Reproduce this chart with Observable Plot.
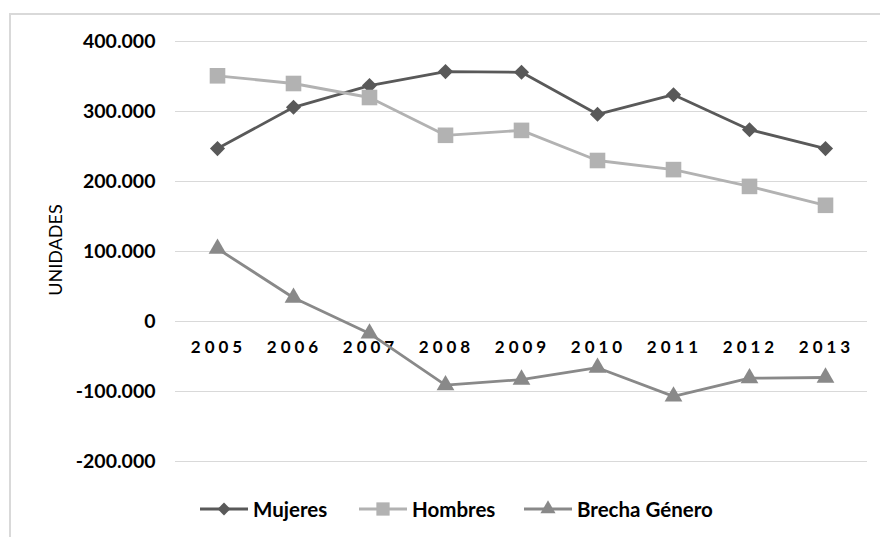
<!DOCTYPE html>
<html><head><meta charset="utf-8">
<script src="https://cdn.jsdelivr.net/npm/d3@7"></script>
<script src="https://cdn.jsdelivr.net/npm/@observablehq/plot@0.6"></script>
<style>
body{margin:0;background:#fff;font-family:Lato,"Open Sans",sans-serif;}
#wrap{position:relative;width:880px;height:537px;overflow:hidden;background:#fff;}
#border{position:absolute;left:9px;top:13px;width:900px;height:600px;border:2px solid #d9d9d9;box-sizing:border-box;}
#chart{position:absolute;left:0;top:0;}
#ylabel{position:absolute;left:55px;top:250px;transform:translate(-50%,-50%) rotate(-90deg);font-size:18px;white-space:nowrap;color:#000;}
.item{position:absolute;top:498px;height:22px;display:flex;align-items:center;font-weight:bold;font-size:20.5px;color:#000;white-space:nowrap;}
.item svg{margin-right:5px;}
</style></head>
<body>
<div id="wrap">
<div id="border"></div>
<div id="chart"></div>
<div id="ylabel">UNIDADES</div>
<div id="legend"></div>
</div>
<script>
const years = ["2005","2006","2007","2008","2009","2010","2011","2012","2013"];
const mujeres = [247000, 306000, 337000, 357000, 356000, 296000, 324000, 274000, 247000];
const hombres = [351000, 340000, 320000, 266000, 273000, 230000, 217000, 193000, 166000];
const brecha  = [104000, 34000, -17000, -91000, -83000, -66000, -107000, -81000, -80000];
const seriesNames = ["Mujeres", "Hombres", "Brecha Género"];
const yTicks = [-200000, -100000, 0, 100000, 200000, 300000, 400000];

const seriesValues = [mujeres, hombres, brecha];
const colors = ["#595959", "#b2b2b2", "#898989"];
const symbols = ["diamond2", "square", "triangle"];
const radii = [6.8, 8.8, 6.6];

const locale = d3.formatLocale({decimal: ",", thousands: ".", grouping: [3], currency: ["", ""], minus: "-"});
const fmt = locale.format(",");

const rows = [];
seriesNames.forEach((s, i) => years.forEach((y, j) => rows.push({serie: s, year: y, value: seriesValues[i][j]})));

const marks = [
  Plot.gridY(yTicks, {stroke: "#d9d9d9", strokeOpacity: 1, strokeWidth: 1.2}),
  Plot.axisY(yTicks, {tickSize: 0, tickPadding: 20, tickFormat: d => fmt(d), fontSize: 19.5, fontWeight: "bold", fill: "#000", label: null}),
  Plot.text(years, {x: d => d, y: () => 0, dy: 26, dx: 1, fontSize: 17, fontWeight: "bold", fill: "#000"})
];
seriesNames.forEach((s, i) => {
  const d = rows.filter(r => r.serie === s);
  marks.push(Plot.line(d, {x: "year", y: "value", stroke: colors[i], strokeWidth: 2.8}));
  marks.push(Plot.dot(d, {x: "year", y: "value", symbol: () => symbols[i], fill: colors[i], stroke: "none", r: radii[i]}));
});

const plot = Plot.plot({
  width: 880, height: 480,
  marginTop: 41, marginBottom: 19, marginLeft: 175, marginRight: 13,
  style: {fontFamily: "Lato, 'Open Sans', sans-serif", background: "transparent", overflow: "visible"},
  x: {type: "point", domain: years, padding: 0.5, axis: null},
  y: {domain: [-200000, 400000], axis: null},
  symbol: {type: "identity"},
  marks
});
d3.select(plot).selectAll("g[aria-label=text] text").attr("letter-spacing", "4px");
document.getElementById("chart").appendChild(plot);

// legend
const lefts = [200, 359, 524];
const legend = d3.select("#legend");
const symMap = {diamond2: d3.symbolDiamond2, square: d3.symbolSquare, triangle: d3.symbolTriangle};
seriesNames.forEach((s, i) => {
  const item = legend.append("div").attr("class", "item").style("left", lefts[i] + "px");
  const svg = item.append("svg").attr("width", 48).attr("height", 22);
  svg.append("line").attr("x1", 0).attr("x2", 48).attr("y1", 11).attr("y2", 11).attr("stroke", colors[i]).attr("stroke-width", 2.8);
  const size = Math.PI * (radii[i] * 0.85) ** 2;
  svg.append("path").attr("d", d3.symbol(symMap[symbols[i]], size)()).attr("transform", "translate(24,11)").attr("fill", colors[i]);
  item.append("span").text(s);
});
</script>
</body></html>
